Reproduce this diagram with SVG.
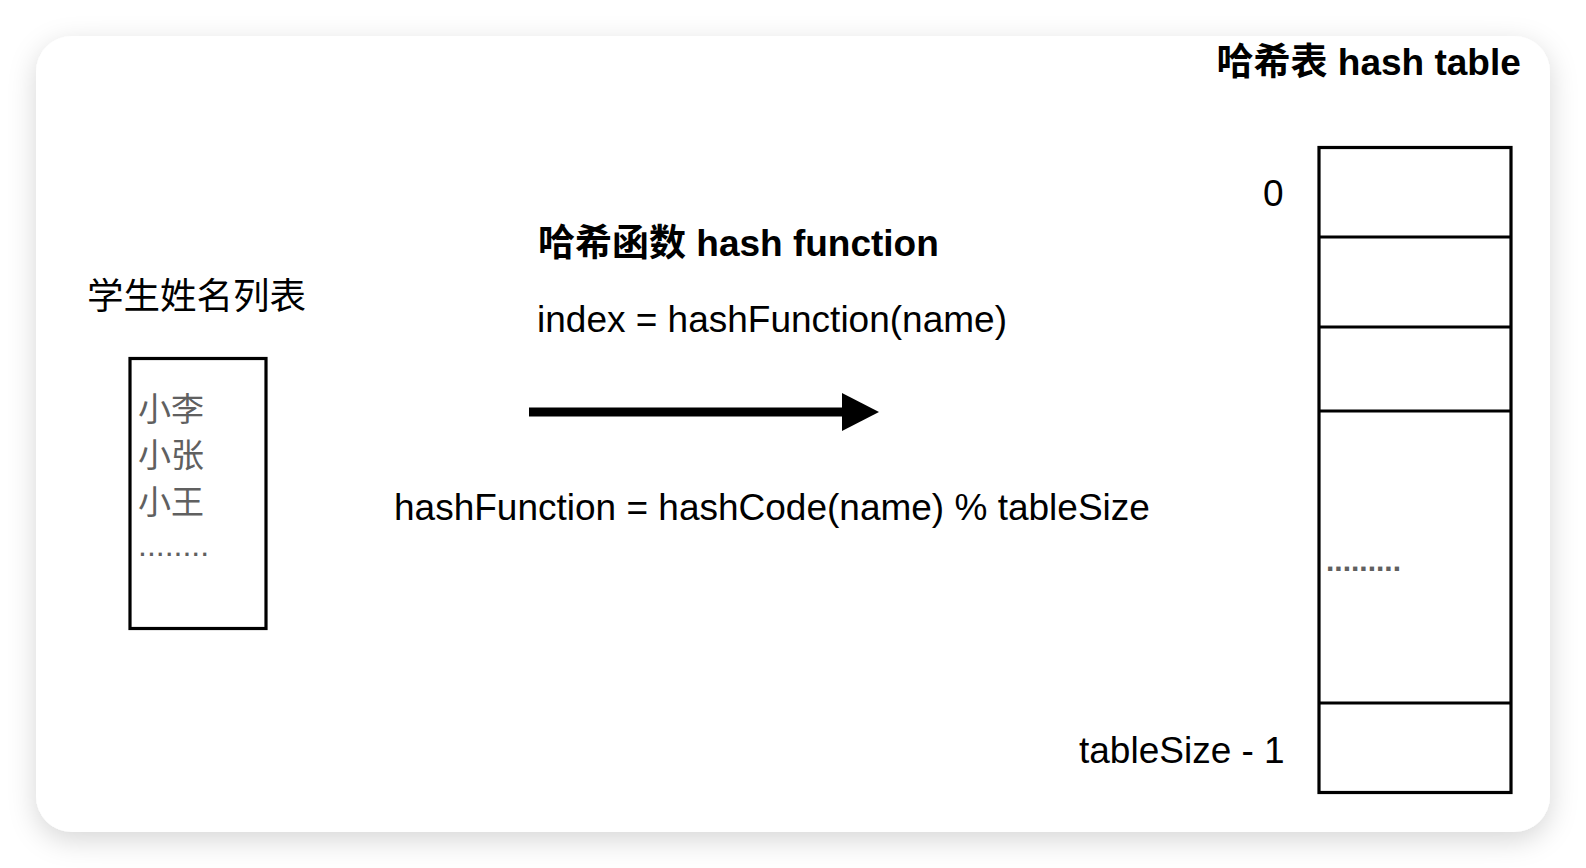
<svg xmlns="http://www.w3.org/2000/svg" width="1586" height="868" viewBox="0 0 1586 868">
  <style>
    .t { font-family: "Liberation Sans", "Noto Sans CJK SC", Arial, sans-serif; fill: #000; }
    .b { font-weight: bold; }
    .g { fill: #606060; }
    .box { fill: #ffffff; stroke: #000; stroke-width: 3.2; }
    .sep { stroke: #000; stroke-width: 3.2; fill: none; }
  </style>
  <defs>
    <filter id="shadow" x="-10%" y="-10%" width="120%" height="125%">
      <feDropShadow dx="0" dy="8" stdDeviation="14" flood-color="#000" flood-opacity="0.16"/>
    </filter>
    <marker id="head" viewBox="0 0 37 38" markerWidth="37" markerHeight="38" refX="0" refY="19" markerUnits="userSpaceOnUse" orient="auto">
      <path d="M0,0 L37,19 L0,38 Z" fill="#000"/>
    </marker>
  </defs>
  <rect width="1586" height="868" fill="#ffffff"/>
  <rect id="card" x="36" y="36" width="1514" height="796" rx="36" ry="36" fill="#ffffff" filter="url(#shadow)"/>

  <g id="student-list">
    <text class="t" x="87" y="309" font-size="36.5">学生姓名列表</text>
    <rect class="box" x="130" y="358.5" width="136" height="270"/>
    <text class="t g" x="138" y="421" font-size="33">小李</text>
    <text class="t g" x="138" y="467" font-size="33">小张</text>
    <text class="t g" x="138" y="514" font-size="33">小王</text>
    <text class="t g" x="138" y="556" font-size="32">........</text>
  </g>

  <g id="hash-function">
    <text class="t b" x="538" y="256" font-size="37">哈希函数 hash function</text>
    <text class="t" x="537" y="332" font-size="37">index = hashFunction(name)</text>
    <text class="t" x="394" y="520" font-size="37">hashFunction = hashCode(name) % tableSize</text>
  </g>

  <g id="connectors">
    <line x1="529" y1="412" x2="842" y2="412" stroke="#000" stroke-width="9" marker-end="url(#head)"/>
  </g>

  <g id="hash-table">
    <text class="t b" x="1216.5" y="75" font-size="37">哈希表 hash table</text>
    <rect class="box" x="1319" y="147.5" width="192" height="645"/>
    <line class="sep" x1="1319" y1="237" x2="1511" y2="237"/>
    <line class="sep" x1="1319" y1="327" x2="1511" y2="327"/>
    <line class="sep" x1="1319" y1="411" x2="1511" y2="411"/>
    <line class="sep" x1="1319" y1="703" x2="1511" y2="703"/>
    <text class="t" x="1263" y="206" font-size="37">0</text>
    <text class="t" x="1079" y="763" font-size="37">tableSize - 1</text>
    <text class="t g" x="1326" y="571" font-size="30" font-weight="bold">.........</text>
  </g>
</svg>
